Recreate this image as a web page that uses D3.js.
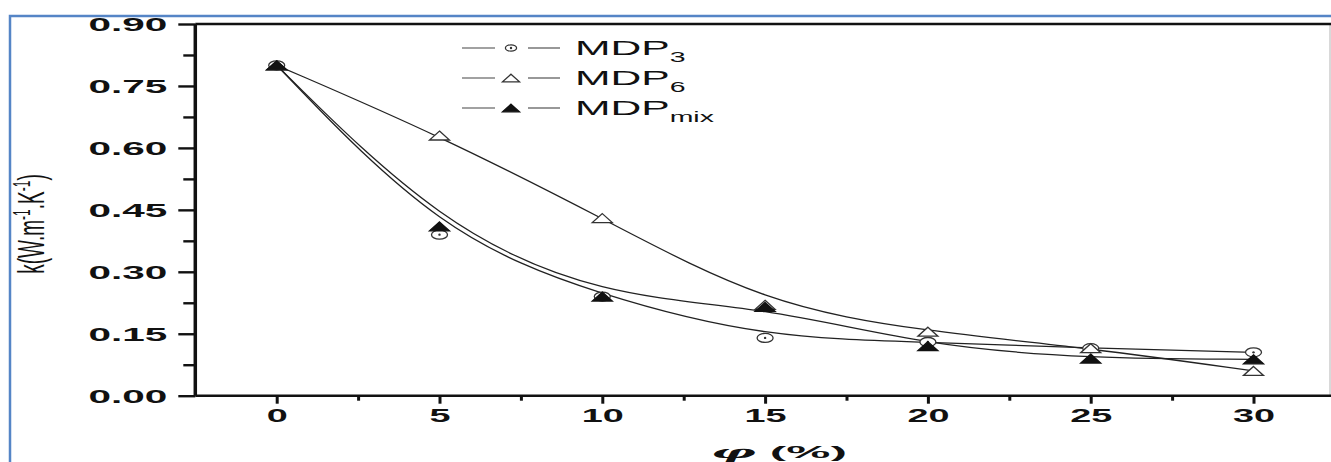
<!DOCTYPE html>
<html>
<head>
<meta charset="utf-8">
<script src="https://cdn.jsdelivr.net/npm/d3@7"></script>
<style>
  body { margin: 0; background: #fff; }
  svg { display: block; }
  text { font-family: "Liberation Sans", Arial, sans-serif; fill: #111; }
</style>
</head>
<body>
<div id="chart"></div>
<script>
// values
const phi = [0, 5, 10, 15, 20, 25, 30];
const mdp3 = [0.80, 0.39, 0.24, 0.14, 0.13, 0.115, 0.105];
const mdp6 = [0.80, 0.63, 0.43, 0.22, 0.155, 0.115, 0.06];
const mdpMix = [0.80, 0.41, 0.24, 0.215, 0.12, 0.09, 0.088];

const yTicks = [0, 0.15, 0.30, 0.45, 0.60, 0.75, 0.90];
const yMinor = [0.075, 0.225, 0.375, 0.525, 0.675, 0.825];
const xTicks = [0, 5, 10, 15, 20, 25, 30];
const xMinor = [2.5, 7.5, 12.5, 17.5, 22.5, 27.5];

const seriesNames = ["MDP", "MDP", "MDP"];
const seriesSubs = ["3", "6", "mix"];
const seriesMarks = ["circle", "open", "filled"];

let width = 1331, height = 462;

let svg = d3.select("#chart").append("svg")
    .attr("width", width)
    .attr("height", height);

// blue frame around the picture
svg.append("rect")
    .attr("x", 10).attr("y", 16)
    .attr("width", width + 20).attr("height", height + 20)
    .attr("fill", "none")
    .attr("stroke", "#5585c6")
    .attr("stroke-width", 2.5);

let x = d3.scaleLinear().domain([-2.5, 32.5]).range([195.3, 1334.9]);
let y = d3.scaleLinear().domain([0, 0.9]).range([395.7, 24]);

let plotLeft = x(-2.5), plotTop = y(0.9), plotBottom = y(0);

// right frame edge (light)
svg.append("line")
    .attr("x1", 1330).attr("x2", 1330)
    .attr("y1", plotTop).attr("y2", plotBottom)
    .attr("stroke", "#ccc").attr("stroke-width", 1.5);

// top frame
svg.append("line")
    .attr("x1", plotLeft).attr("x2", width)
    .attr("y1", plotTop).attr("y2", plotTop)
    .attr("stroke", "#111").attr("stroke-width", 2.5);

// y axis
let yAxis = svg.append("g")
    .attr("transform", "translate(" + plotLeft + ",0)")
    .call(d3.axisLeft(y).tickValues(yTicks).tickSize(17).tickFormat(d3.format(".2f")));
svg.append("g")
    .attr("transform", "translate(" + plotLeft + ",0)")
    .call(d3.axisLeft(y).tickValues(yMinor).tickSize(12).tickFormat(""))
    .select(".domain").remove();

yAxis.select(".domain").attr("stroke", "#111").attr("stroke-width", 3.5)
    .attr("d", "M0," + plotTop + "V" + plotBottom);
svg.selectAll(".tick line").attr("stroke", "#111").attr("stroke-width", 2.4);

yAxis.selectAll(".tick text")
    .attr("x", -28 / 2.25)
    .attr("dy", "0.36em")
    .attr("transform", "scale(2.25,1)")
    .style("font-size", "18px")
    .style("font-weight", "bold")
    .attr("fill", "#111");

// x axis
let xAxis = svg.append("g")
    .attr("transform", "translate(0," + plotBottom + ")")
    .call(d3.axisBottom(x).tickValues(xTicks).tickSize(8).tickFormat(d3.format("d")));
svg.append("g")
    .attr("transform", "translate(0," + plotBottom + ")")
    .call(d3.axisBottom(x).tickValues(xMinor).tickSize(5).tickFormat(""))
    .call(g => g.select(".domain").remove())
    .selectAll(".tick line").attr("stroke", "#111").attr("stroke-width", 3);

xAxis.select(".domain").attr("stroke", "#111").attr("stroke-width", 2.5)
    .attr("d", "M" + plotLeft + ",0H" + width);
xAxis.selectAll(".tick line").attr("stroke", "#111").attr("stroke-width", 3);
xAxis.selectAll(".tick text")
    .attr("y", 26)
    .attr("dy", 0)
    .attr("transform", "scale(2.1,1)")
    .style("font-size", "18px")
    .style("font-weight", "bold")
    .attr("fill", "#111");

// axis titles
let xt = svg.append("text")
    .attr("transform", "translate(779,458) scale(3.1,1)")
    .attr("text-anchor", "middle")
    .style("font-size", "16px")
    .style("font-weight", "bold");
xt.append("tspan").text("φ").style("font-style", "italic").style("font-family", "'DejaVu Serif', serif");
xt.append("tspan").text(" (%)");

let yt = svg.append("text")
    .attr("transform", "translate(44,224) rotate(-90) scale(1,1.95)")
    .attr("text-anchor", "middle")
    .style("font-size", "19px");
yt.append("tspan").text("k(W.m");
yt.append("tspan").text("-1").attr("dy", -7).style("font-size", "12px");
yt.append("tspan").text(".K").attr("dy", 7);
yt.append("tspan").text("-1").attr("dy", -7).style("font-size", "12px");
yt.append("tspan").text(")").attr("dy", 7);

// curves (B-spline through the measured points)
let line = d3.line()
    .x(function(d) { return x(d[0]); })
    .y(function(d) { return y(d[1]); })
    .curve(d3.curveBasis);

let allSeries = [mdp3, mdp6, mdpMix];

allSeries.forEach(function(vals) {
    svg.append("path")
        .datum(phi.map(function(p, i) { return [p, vals[i]]; }))
        .attr("d", line)
        .attr("fill", "none")
        .attr("stroke", "#222")
        .attr("stroke-width", 1.3);
});

function drawMarker(g, kind, cx, cy, s) {
    if (kind == "circle") {
        g.append("ellipse").attr("cx", cx).attr("cy", cy)
            .attr("rx", 8 * s).attr("ry", 4.5 * s)
            .attr("fill", "#fff").attr("stroke", "#333").attr("stroke-width", 1.3);
        g.append("circle").attr("cx", cx).attr("cy", cy).attr("r", 1.2)
            .attr("fill", "#333");
    } else {
        let w = 10 * s, h = 4.5 * s;
        g.append("path")
            .attr("d", "M" + cx + "," + (cy - h) + "L" + (cx + w) + "," + (cy + h) + "L" + (cx - w) + "," + (cy + h) + "Z")
            .attr("fill", kind == "filled" ? "#111" : "#fff")
            .attr("stroke", kind == "filled" ? "#111" : "#333")
            .attr("stroke-width", 1.3);
    }
}

let marks = svg.append("g");
allSeries.forEach(function(vals, k) {
    phi.forEach(function(p, i) {
        drawMarker(marks, seriesMarks[k], x(p), y(vals[i]), 1);
    });
});

// legend
let legend = svg.append("g");
seriesNames.forEach(function(name, i) {
    let ly = 48 + i * 30;
    legend.append("line").attr("x1", 462).attr("x2", 495).attr("y1", ly).attr("y2", ly)
        .attr("stroke", "#444").attr("stroke-width", 1.1);
    legend.append("line").attr("x1", 528).attr("x2", 560).attr("y1", ly).attr("y2", ly)
        .attr("stroke", "#444").attr("stroke-width", 1.1);
    drawMarker(legend, seriesMarks[i], 511, ly, seriesMarks[i] == "circle" ? 0.7 : 0.85);
    let t = legend.append("text")
        .attr("transform", "translate(575," + (ly + 7) + ") scale(2.03,1)")
        .style("font-size", "21px");
    t.append("tspan").text(name);
    t.append("tspan").text(seriesSubs[i]).attr("dy", 7).style("font-size", "14px");
});
</script>
</body>
</html>
